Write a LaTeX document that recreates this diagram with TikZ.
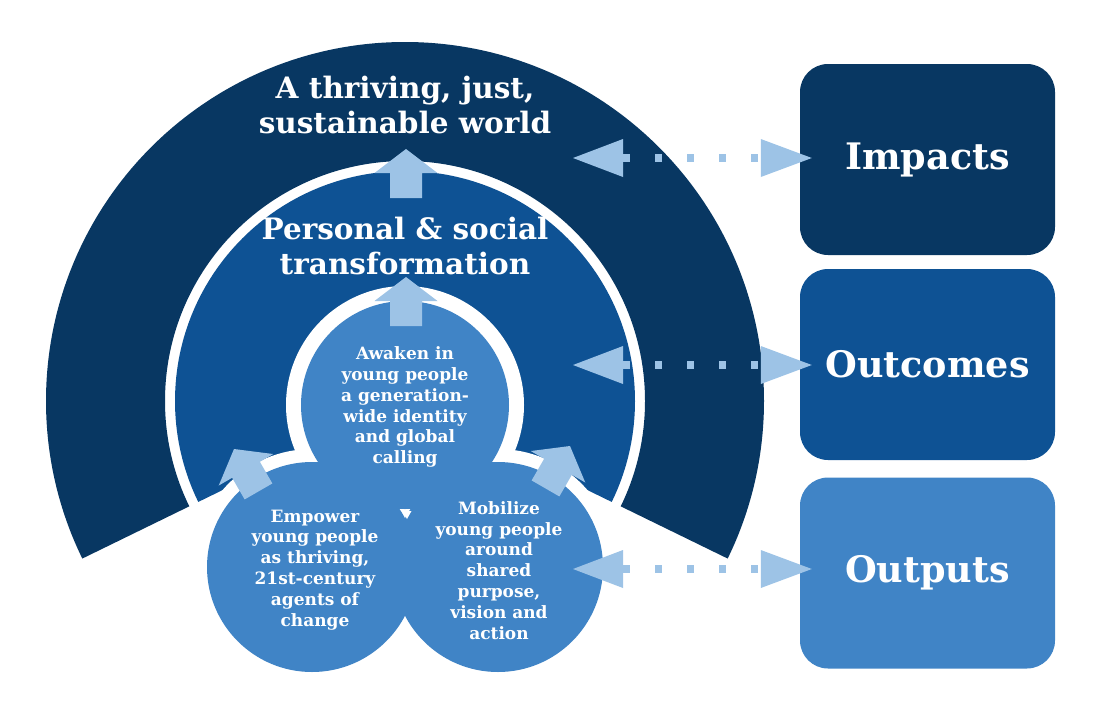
\documentclass[tikz,border=0pt]{standalone}
\usepackage{fontspec}
\setmainfont{DejaVu Serif}
\usetikzlibrary{arrows.meta,calc}
\definecolor{navy}{HTML}{083762}
\definecolor{midblue}{HTML}{0E5294}
\definecolor{lightblue}{HTML}{4084C6}
\definecolor{paleblue}{HTML}{9DC3E6}
\tikzset{
  blockarrow/.pic={\fill[paleblue] (0,0) -- (31.5,24) -- (16,24) -- (16,49) -- (-16,49) -- (-16,24) -- (-31.5,24) -- cycle;},
  bubble/.style={circle, fill=lightblue, minimum size=208pt, inner sep=0pt, text=white, align=center,
    font=\fontsize{17}{20.9}\selectfont\bfseries},
  ringtext/.style={text=white, align=center, font=\fontsize{29.5}{35}\selectfont\bfseries},
  levelbox/.style={rounded corners=28pt, minimum width=255pt, minimum height=191pt, inner sep=0pt,
    text=white, font=\fontsize{36.5}{40}\selectfont\bfseries},
  dotconn/.style={paleblue, line width=7.5pt, dash pattern=on 7pt off 25pt,
    {Triangle[length=50pt,width=38pt,line width=0pt]}-{Triangle[length=51pt,width=38pt,line width=0pt]},
    shorten >=-12pt}
}
\begin{document}
\begin{tikzpicture}[x=1pt,y=-1pt]
\useasboundingbox (0,0) rectangle (1101,716);
\coordinate (c) at (405,401);
% rings, cut by a wedge at the bottom
\begin{scope}
  \clip (c) -- (1214,796) -- (1214,-300) -- (-404,-300) -- (-404,796) -- cycle;
  \fill[navy, even odd rule] (c) circle[radius=359] (c) circle[radius=240];
  \fill[midblue] (c) circle[radius=230];
\end{scope}
% white outline of the three bubbles
\fill[white] (405,405) circle[radius=119];
\fill[white] (312,567) circle[radius=118];
\fill[white] (498,567) circle[radius=118];
% bubbles
\node[bubble] (awaken) at (405,405) {};
\node[bubble, minimum size=210pt] (empower) at (312,567) {};
\node[bubble, minimum size=210pt] (mobilize) at (498,567) {};
\node[bubble, minimum size=10pt, fill=none] (awakentext) at (405,407) {Awaken in\\young people\\a generation-\\wide identity\\and global\\calling};
\node[bubble, minimum size=10pt, fill=none] (empowertext) at (315,570) {Empower\\young people\\as thriving,\\21st-century\\agents of\\change};
\node[bubble, minimum size=10pt, fill=none] (mobilizetext) at (499,570.5) {Mobilize\\young people\\around\\shared\\purpose,\\vision and\\action};
\fill[white] (402.5,511) -- (411.5,511) -- (407,519) -- cycle;
% ring labels
\node[ringtext] (world) at (405,105) {A thriving, just,\\sustainable world};
\node[ringtext] (transf) at (405,245.5) {Personal \& social\\transformation};
% block arrows
\pic at (406,149) {blockarrow};
\pic at (406,277) {blockarrow};
\pic[rotate=30] at (234,449) {blockarrow};
\pic[rotate=-30] at (570,446) {blockarrow};
% level boxes
\node[levelbox, fill=navy] (impacts) at (927.5,159.5) {Impacts};
\node[levelbox, fill=midblue] (outcomes) at (927.5,364.5) {Outcomes};
\node[levelbox, fill=lightblue] (outputs) at (927.5,573) {Outputs};
% dotted connectors
\coordinate (s1) at (573,158);
\coordinate (s2) at (573,365);
\coordinate (s3) at (573,569);
\draw[dotconn] (s1) -- (s1 -| impacts.west);
\draw[dotconn] (s2) -- (s2 -| outcomes.west);
\draw[dotconn] (s3) -- (s3 -| outputs.west);
\end{tikzpicture}
\end{document}
